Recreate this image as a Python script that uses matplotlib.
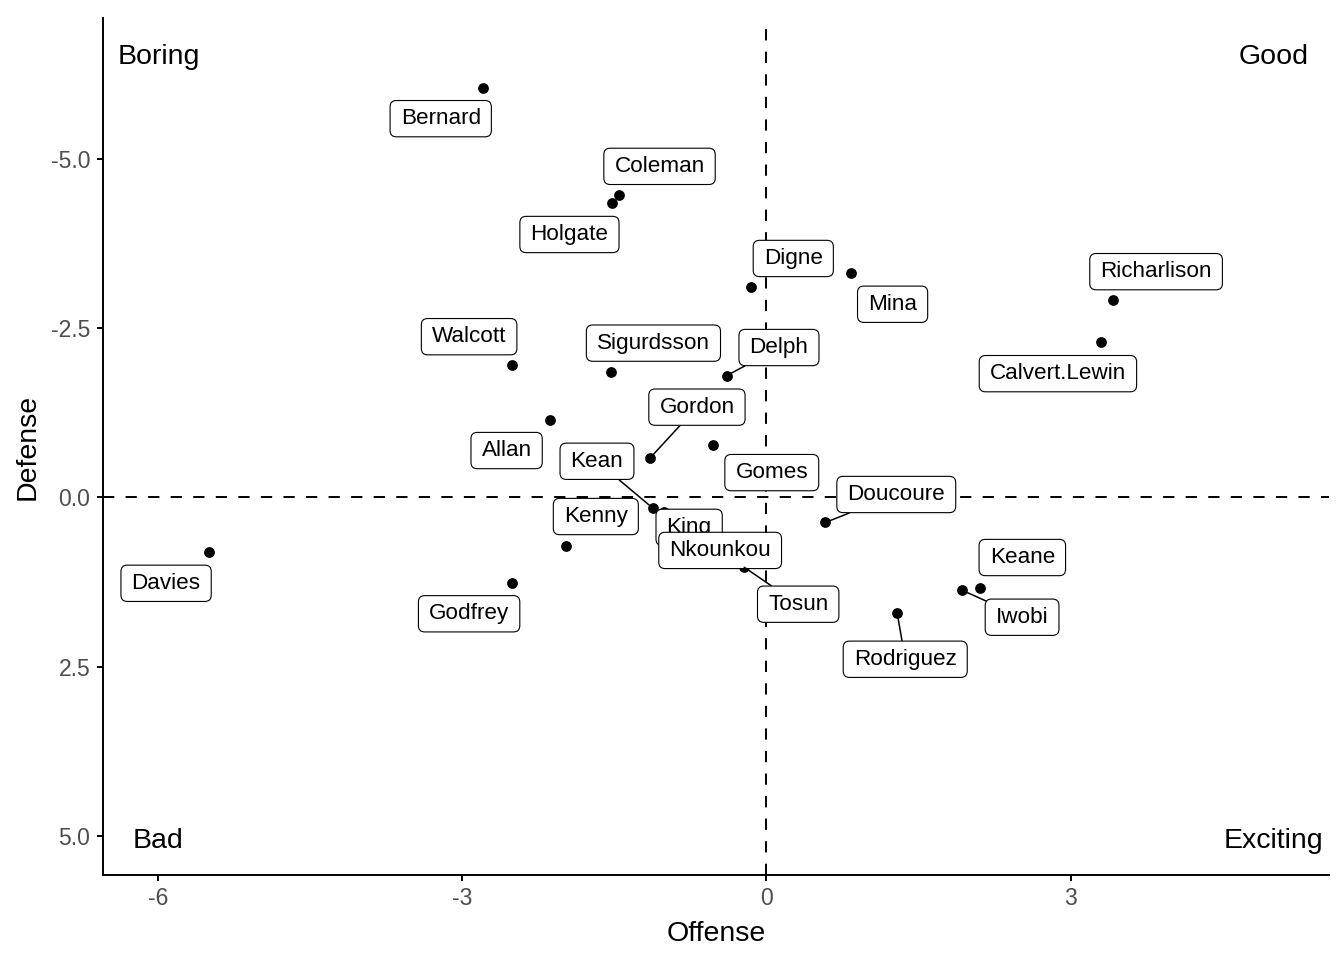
import matplotlib

matplotlib.use("Agg")
import matplotlib.pyplot as plt
from matplotlib.patches import BoxStyle

plt.rcParams["font.family"] = ["Liberation Sans", "DejaVu Sans"]

# player scores (x = offense, y = defense; y axis is reversed)
players = [
    "Bernard", "Coleman", "Holgate", "Digne", "Mina", "Richarlison",
    "Calvert.Lewin", "Walcott", "Sigurdsson", "Delph", "Allan", "Gordon",
    "Gomes", "Kean", "King", "Doucoure", "Kenny", "Nkounkou", "Tosun",
    "Davies", "Godfrey", "Keane", "Iwobi", "Rodriguez",
]
offense = [
    -2.80, -1.46, -1.52, -0.15, 0.83, 3.42,
    3.30, -2.51, -1.53, -0.39, -2.14, -1.15,
    -0.53, -1.12, -1.01, 0.58, -1.98, -0.25, -0.22,
    -5.50, -2.51, 2.11, 1.93, 1.29,
]
defense = [
    -6.05, -4.46, -4.34, -3.10, -3.31, -2.92,
    -2.30, -1.96, -1.85, -1.80, -1.15, -0.58,
    -0.78, 0.16, 0.22, 0.37, 0.71, 0.93, 1.03,
    0.81, 1.26, 1.33, 1.37, 1.71,
]

quadrant_names = ["Boring", "Good", "Bad", "Exciting"]
quadrant_x = [-6, 5, -6, 5]
quadrant_y = [-6.5, -6.5, 5.07, 5.07]

x_ticks = [-6, -3, 0, 3]
y_ticks = [-5.0, -2.5, 0.0, 2.5, 5.0]

# label placement (pixel offsets from the point, like a repel layout)
label_offsets = {
    "Bernard": (-42, -31), "Coleman": (41, 29), "Holgate": (-43, -31),
    "Digne": (42, 29), "Mina": (42, -31), "Richarlison": (43, 28),
    "Calvert.Lewin": (-43, -32), "Walcott": (-43, 28), "Sigurdsson": (42, 29),
    "Delph": (52, 28), "Allan": (-43, -31), "Gordon": (47, 51),
    "Gomes": (59, -28), "Kean": (-56, 47), "King": (25, -15),
    "Doucoure": (71, 28), "Kenny": (30, 29), "Nkounkou": (-21, 10),
    "Tosun": (54, -37), "Davies": (-43, -31), "Godfrey": (-43, -31),
    "Keane": (42, 30), "Iwobi": (60, -27), "Rodriguez": (8, -46),
}
with_segment = {"Delph", "Gordon", "Kean", "Doucoure", "Tosun", "Iwobi", "Rodriguez"}

_round = BoxStyle.Round(pad=0, rounding_size=0.28)


def label_box(x0, y0, width, height, mutation_size):
    # rounded box with wider padding left/right than top/bottom
    px = 0.47 * mutation_size
    py = 0.34 * mutation_size
    return _round(x0 - px, y0 - py, width + 2 * px, height + 2 * py, mutation_size)


fig = plt.figure(figsize=(13.44, 9.6), dpi=100)
ax = fig.add_axes([0.0764, 0.0885, 0.9124, 0.8925])

dash = (0, (5.8, 5.8))
ax.axvline(0, color="black", lw=1.4, linestyle=dash, zorder=1)
ax.axhline(0, color="black", lw=1.4, linestyle=dash, zorder=1)

ax.scatter(offense, defense, s=60, color="black", zorder=2, linewidths=0)

for name, x, y in zip(players, offense, defense):
    dx, dy = label_offsets[name]
    arrow = None
    if name in with_segment:
        arrow = dict(arrowstyle="-", color="black", lw=1.1, shrinkA=0, shrinkB=0)
    ax.annotate(
        name, xy=(x, y), xytext=(dx, dy), textcoords="offset pixels",
        ha="center", va="center", fontsize=16.2, color="black",
        bbox=dict(boxstyle=label_box, fc="white", ec="black", lw=0.8),
        arrowprops=arrow, zorder=4,
    )

for name, x, y in zip(quadrant_names, quadrant_x, quadrant_y):
    ax.text(x, y, name, ha="center", va="center", fontsize=20.5, color="black", zorder=3)

ax.set_xlim(-6.55, 5.55)
ax.set_ylim(5.575, -7.075)
ax.set_xticks(x_ticks)
ax.set_xticklabels([str(t) for t in x_ticks])
ax.set_yticks(y_ticks)
ax.set_yticklabels([f"{t:.1f}" for t in y_ticks])

for side in ["top", "right"]:
    ax.spines[side].set_visible(False)
for side in ["left", "bottom"]:
    ax.spines[side].set_linewidth(1.4)
ax.tick_params(axis="both", length=4.3, width=1.4, colors="black",
               labelcolor="#4D4D4D", labelsize=16.5, pad=4.5)

ax.set_xlabel("Offense", fontsize=20.5, labelpad=7.5)
ax.set_ylabel("Defense", fontsize=20.5, labelpad=7.5)

fig.savefig("out.png", dpi=100)
